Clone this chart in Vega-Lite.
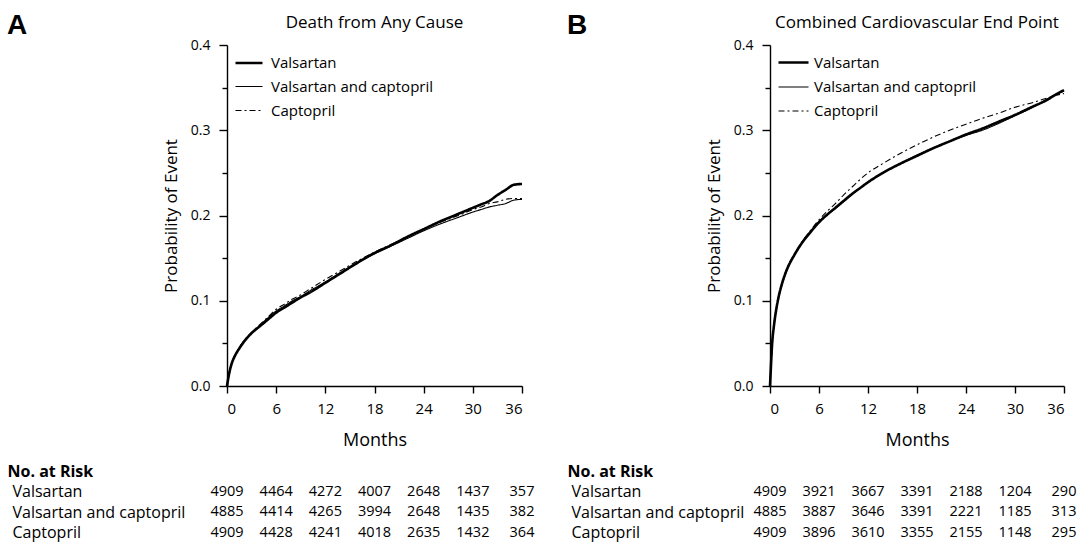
{
  "$schema": "https://vega.github.io/schema/vega-lite/v6.json",
  "padding": {"left": 7, "top": 12, "right": 0, "bottom": 0},
  "spacing": 32,
  "resolve": {"scale": {"strokeDash": "independent", "strokeWidth": "independent"}, "legend": {"strokeDash": "independent", "strokeWidth": "independent"}},
  "config": {
    "font": "Open Sans",
    "view": {"stroke": null},
    "axis": {"grid": false, "domainColor": "black", "tickColor": "black", "labelColor": "black", "titleColor": "black", "domainWidth": 1.4, "tickWidth": 1.4, "labelFontSize": 14, "titleFontSize": 17, "titleFontWeight": "normal"},
    "title": {"color": "black", "fontWeight": "normal"},
    "legend": {"labelColor": "black", "symbolStrokeColor": "black", "labelLimit": 400}
  },
  "datasets": {
    "curvesA": [
      {"series": "Valsartan", "month": 0, "p": 0},
      {"series": "Valsartan", "month": 0.25, "p": 0.014},
      {"series": "Valsartan", "month": 0.5, "p": 0.024},
      {"series": "Valsartan", "month": 1, "p": 0.036},
      {"series": "Valsartan", "month": 1.5, "p": 0.044},
      {"series": "Valsartan", "month": 2, "p": 0.051},
      {"series": "Valsartan", "month": 3, "p": 0.062},
      {"series": "Valsartan", "month": 4, "p": 0.07},
      {"series": "Valsartan", "month": 5, "p": 0.078},
      {"series": "Valsartan", "month": 6, "p": 0.086},
      {"series": "Valsartan", "month": 7, "p": 0.092},
      {"series": "Valsartan", "month": 8, "p": 0.098},
      {"series": "Valsartan", "month": 9, "p": 0.104},
      {"series": "Valsartan", "month": 10, "p": 0.109},
      {"series": "Valsartan", "month": 12, "p": 0.121},
      {"series": "Valsartan", "month": 14, "p": 0.133},
      {"series": "Valsartan", "month": 16, "p": 0.145},
      {"series": "Valsartan", "month": 18, "p": 0.156},
      {"series": "Valsartan", "month": 20, "p": 0.165},
      {"series": "Valsartan", "month": 22, "p": 0.175},
      {"series": "Valsartan", "month": 24, "p": 0.184},
      {"series": "Valsartan", "month": 26, "p": 0.193},
      {"series": "Valsartan", "month": 28, "p": 0.201},
      {"series": "Valsartan", "month": 30, "p": 0.209},
      {"series": "Valsartan", "month": 31, "p": 0.213},
      {"series": "Valsartan", "month": 32, "p": 0.217},
      {"series": "Valsartan", "month": 33, "p": 0.224},
      {"series": "Valsartan", "month": 34, "p": 0.23},
      {"series": "Valsartan", "month": 35, "p": 0.236},
      {"series": "Valsartan", "month": 36, "p": 0.237},
      {"series": "Valsartan and captopril", "month": 0, "p": 0},
      {"series": "Valsartan and captopril", "month": 0.25, "p": 0.014},
      {"series": "Valsartan and captopril", "month": 0.5, "p": 0.024},
      {"series": "Valsartan and captopril", "month": 1, "p": 0.036},
      {"series": "Valsartan and captopril", "month": 1.5, "p": 0.045},
      {"series": "Valsartan and captopril", "month": 2, "p": 0.052},
      {"series": "Valsartan and captopril", "month": 3, "p": 0.062},
      {"series": "Valsartan and captopril", "month": 4, "p": 0.071},
      {"series": "Valsartan and captopril", "month": 5, "p": 0.08},
      {"series": "Valsartan and captopril", "month": 6, "p": 0.088},
      {"series": "Valsartan and captopril", "month": 7, "p": 0.094},
      {"series": "Valsartan and captopril", "month": 8, "p": 0.1},
      {"series": "Valsartan and captopril", "month": 9, "p": 0.105},
      {"series": "Valsartan and captopril", "month": 10, "p": 0.111},
      {"series": "Valsartan and captopril", "month": 12, "p": 0.122},
      {"series": "Valsartan and captopril", "month": 14, "p": 0.134},
      {"series": "Valsartan and captopril", "month": 16, "p": 0.145},
      {"series": "Valsartan and captopril", "month": 18, "p": 0.155},
      {"series": "Valsartan and captopril", "month": 20, "p": 0.164},
      {"series": "Valsartan and captopril", "month": 22, "p": 0.173},
      {"series": "Valsartan and captopril", "month": 24, "p": 0.182},
      {"series": "Valsartan and captopril", "month": 26, "p": 0.19},
      {"series": "Valsartan and captopril", "month": 28, "p": 0.197},
      {"series": "Valsartan and captopril", "month": 30, "p": 0.204},
      {"series": "Valsartan and captopril", "month": 31, "p": 0.207},
      {"series": "Valsartan and captopril", "month": 32, "p": 0.21},
      {"series": "Valsartan and captopril", "month": 33, "p": 0.212},
      {"series": "Valsartan and captopril", "month": 34, "p": 0.214},
      {"series": "Valsartan and captopril", "month": 35, "p": 0.218},
      {"series": "Valsartan and captopril", "month": 36, "p": 0.219},
      {"series": "Captopril", "month": 0, "p": 0},
      {"series": "Captopril", "month": 0.25, "p": 0.015},
      {"series": "Captopril", "month": 0.5, "p": 0.025},
      {"series": "Captopril", "month": 1, "p": 0.037},
      {"series": "Captopril", "month": 1.5, "p": 0.045},
      {"series": "Captopril", "month": 2, "p": 0.052},
      {"series": "Captopril", "month": 3, "p": 0.063},
      {"series": "Captopril", "month": 4, "p": 0.072},
      {"series": "Captopril", "month": 5, "p": 0.081},
      {"series": "Captopril", "month": 6, "p": 0.09},
      {"series": "Captopril", "month": 7, "p": 0.096},
      {"series": "Captopril", "month": 8, "p": 0.102},
      {"series": "Captopril", "month": 9, "p": 0.107},
      {"series": "Captopril", "month": 10, "p": 0.113},
      {"series": "Captopril", "month": 12, "p": 0.125},
      {"series": "Captopril", "month": 14, "p": 0.136},
      {"series": "Captopril", "month": 16, "p": 0.147},
      {"series": "Captopril", "month": 18, "p": 0.157},
      {"series": "Captopril", "month": 20, "p": 0.166},
      {"series": "Captopril", "month": 22, "p": 0.175},
      {"series": "Captopril", "month": 24, "p": 0.184},
      {"series": "Captopril", "month": 26, "p": 0.192},
      {"series": "Captopril", "month": 28, "p": 0.199},
      {"series": "Captopril", "month": 30, "p": 0.207},
      {"series": "Captopril", "month": 31, "p": 0.21},
      {"series": "Captopril", "month": 32, "p": 0.214},
      {"series": "Captopril", "month": 33, "p": 0.216},
      {"series": "Captopril", "month": 34, "p": 0.219},
      {"series": "Captopril", "month": 35, "p": 0.22},
      {"series": "Captopril", "month": 36, "p": 0.22}
    ],
    "curvesB": [
      {"series": "Valsartan", "month": 0, "p": 0},
      {"series": "Valsartan", "month": 0.1, "p": 0.02},
      {"series": "Valsartan", "month": 0.25, "p": 0.048},
      {"series": "Valsartan", "month": 0.5, "p": 0.072},
      {"series": "Valsartan", "month": 0.75, "p": 0.089},
      {"series": "Valsartan", "month": 1, "p": 0.102},
      {"series": "Valsartan", "month": 1.5, "p": 0.121},
      {"series": "Valsartan", "month": 2, "p": 0.135},
      {"series": "Valsartan", "month": 3, "p": 0.154},
      {"series": "Valsartan", "month": 4, "p": 0.169},
      {"series": "Valsartan", "month": 5, "p": 0.181},
      {"series": "Valsartan", "month": 6, "p": 0.192},
      {"series": "Valsartan", "month": 7, "p": 0.201},
      {"series": "Valsartan", "month": 8, "p": 0.209},
      {"series": "Valsartan", "month": 9, "p": 0.217},
      {"series": "Valsartan", "month": 10, "p": 0.225},
      {"series": "Valsartan", "month": 11, "p": 0.232},
      {"series": "Valsartan", "month": 12, "p": 0.239},
      {"series": "Valsartan", "month": 14, "p": 0.251},
      {"series": "Valsartan", "month": 16, "p": 0.261},
      {"series": "Valsartan", "month": 18, "p": 0.27},
      {"series": "Valsartan", "month": 20, "p": 0.279},
      {"series": "Valsartan", "month": 22, "p": 0.287},
      {"series": "Valsartan", "month": 24, "p": 0.295},
      {"series": "Valsartan", "month": 26, "p": 0.302},
      {"series": "Valsartan", "month": 28, "p": 0.31},
      {"series": "Valsartan", "month": 30, "p": 0.318},
      {"series": "Valsartan", "month": 32, "p": 0.327},
      {"series": "Valsartan", "month": 34, "p": 0.336},
      {"series": "Valsartan", "month": 35, "p": 0.342},
      {"series": "Valsartan", "month": 36, "p": 0.347},
      {"series": "Valsartan and captopril", "month": 0, "p": 0},
      {"series": "Valsartan and captopril", "month": 0.1, "p": 0.02},
      {"series": "Valsartan and captopril", "month": 0.25, "p": 0.047},
      {"series": "Valsartan and captopril", "month": 0.5, "p": 0.071},
      {"series": "Valsartan and captopril", "month": 0.75, "p": 0.088},
      {"series": "Valsartan and captopril", "month": 1, "p": 0.101},
      {"series": "Valsartan and captopril", "month": 1.5, "p": 0.12},
      {"series": "Valsartan and captopril", "month": 2, "p": 0.134},
      {"series": "Valsartan and captopril", "month": 3, "p": 0.154},
      {"series": "Valsartan and captopril", "month": 4, "p": 0.17},
      {"series": "Valsartan and captopril", "month": 5, "p": 0.182},
      {"series": "Valsartan and captopril", "month": 6, "p": 0.193},
      {"series": "Valsartan and captopril", "month": 7, "p": 0.201},
      {"series": "Valsartan and captopril", "month": 8, "p": 0.208},
      {"series": "Valsartan and captopril", "month": 9, "p": 0.216},
      {"series": "Valsartan and captopril", "month": 10, "p": 0.224},
      {"series": "Valsartan and captopril", "month": 11, "p": 0.232},
      {"series": "Valsartan and captopril", "month": 12, "p": 0.239},
      {"series": "Valsartan and captopril", "month": 14, "p": 0.251},
      {"series": "Valsartan and captopril", "month": 16, "p": 0.261},
      {"series": "Valsartan and captopril", "month": 18, "p": 0.271},
      {"series": "Valsartan and captopril", "month": 20, "p": 0.279},
      {"series": "Valsartan and captopril", "month": 22, "p": 0.287},
      {"series": "Valsartan and captopril", "month": 24, "p": 0.294},
      {"series": "Valsartan and captopril", "month": 26, "p": 0.3},
      {"series": "Valsartan and captopril", "month": 28, "p": 0.308},
      {"series": "Valsartan and captopril", "month": 30, "p": 0.317},
      {"series": "Valsartan and captopril", "month": 32, "p": 0.326},
      {"series": "Valsartan and captopril", "month": 34, "p": 0.337},
      {"series": "Valsartan and captopril", "month": 35, "p": 0.342},
      {"series": "Valsartan and captopril", "month": 36, "p": 0.346},
      {"series": "Captopril", "month": 0, "p": 0},
      {"series": "Captopril", "month": 0.1, "p": 0.02},
      {"series": "Captopril", "month": 0.25, "p": 0.048},
      {"series": "Captopril", "month": 0.5, "p": 0.073},
      {"series": "Captopril", "month": 0.75, "p": 0.09},
      {"series": "Captopril", "month": 1, "p": 0.103},
      {"series": "Captopril", "month": 1.5, "p": 0.122},
      {"series": "Captopril", "month": 2, "p": 0.136},
      {"series": "Captopril", "month": 3, "p": 0.155},
      {"series": "Captopril", "month": 4, "p": 0.17},
      {"series": "Captopril", "month": 5, "p": 0.183},
      {"series": "Captopril", "month": 6, "p": 0.195},
      {"series": "Captopril", "month": 7, "p": 0.205},
      {"series": "Captopril", "month": 8, "p": 0.214},
      {"series": "Captopril", "month": 9, "p": 0.224},
      {"series": "Captopril", "month": 10, "p": 0.233},
      {"series": "Captopril", "month": 11, "p": 0.242},
      {"series": "Captopril", "month": 12, "p": 0.25},
      {"series": "Captopril", "month": 14, "p": 0.262},
      {"series": "Captopril", "month": 16, "p": 0.273},
      {"series": "Captopril", "month": 18, "p": 0.283},
      {"series": "Captopril", "month": 20, "p": 0.292},
      {"series": "Captopril", "month": 22, "p": 0.3},
      {"series": "Captopril", "month": 24, "p": 0.307},
      {"series": "Captopril", "month": 26, "p": 0.314},
      {"series": "Captopril", "month": 28, "p": 0.32},
      {"series": "Captopril", "month": 30, "p": 0.327},
      {"series": "Captopril", "month": 32, "p": 0.332},
      {"series": "Captopril", "month": 34, "p": 0.338},
      {"series": "Captopril", "month": 35, "p": 0.341},
      {"series": "Captopril", "month": 36, "p": 0.343}
    ],
    "riskA": [
      {"row": "Valsartan", "month": 0, "n": 4909}, {"row": "Valsartan", "month": 6, "n": 4464}, {"row": "Valsartan", "month": 12, "n": 4272}, {"row": "Valsartan", "month": 18, "n": 4007}, {"row": "Valsartan", "month": 24, "n": 2648}, {"row": "Valsartan", "month": 30, "n": 1437}, {"row": "Valsartan", "month": 36, "n": 357},
      {"row": "Valsartan and captopril", "month": 0, "n": 4885}, {"row": "Valsartan and captopril", "month": 6, "n": 4414}, {"row": "Valsartan and captopril", "month": 12, "n": 4265}, {"row": "Valsartan and captopril", "month": 18, "n": 3994}, {"row": "Valsartan and captopril", "month": 24, "n": 2648}, {"row": "Valsartan and captopril", "month": 30, "n": 1435}, {"row": "Valsartan and captopril", "month": 36, "n": 382},
      {"row": "Captopril", "month": 0, "n": 4909}, {"row": "Captopril", "month": 6, "n": 4428}, {"row": "Captopril", "month": 12, "n": 4241}, {"row": "Captopril", "month": 18, "n": 4018}, {"row": "Captopril", "month": 24, "n": 2635}, {"row": "Captopril", "month": 30, "n": 1432}, {"row": "Captopril", "month": 36, "n": 364}
    ],
    "riskB": [
      {"row": "Valsartan", "month": 0, "n": 4909}, {"row": "Valsartan", "month": 6, "n": 3921}, {"row": "Valsartan", "month": 12, "n": 3667}, {"row": "Valsartan", "month": 18, "n": 3391}, {"row": "Valsartan", "month": 24, "n": 2188}, {"row": "Valsartan", "month": 30, "n": 1204}, {"row": "Valsartan", "month": 36, "n": 290},
      {"row": "Valsartan and captopril", "month": 0, "n": 4885}, {"row": "Valsartan and captopril", "month": 6, "n": 3887}, {"row": "Valsartan and captopril", "month": 12, "n": 3646}, {"row": "Valsartan and captopril", "month": 18, "n": 3391}, {"row": "Valsartan and captopril", "month": 24, "n": 2221}, {"row": "Valsartan and captopril", "month": 30, "n": 1185}, {"row": "Valsartan and captopril", "month": 36, "n": 313},
      {"row": "Captopril", "month": 0, "n": 4909}, {"row": "Captopril", "month": 6, "n": 3896}, {"row": "Captopril", "month": 12, "n": 3610}, {"row": "Captopril", "month": 18, "n": 3355}, {"row": "Captopril", "month": 24, "n": 2155}, {"row": "Captopril", "month": 30, "n": 1148}, {"row": "Captopril", "month": 36, "n": 295}
    ]
  },
  "hconcat": [
    {
      "title": {"text": "A", "anchor": "start", "frame": "bounds", "fontSize": 28, "fontWeight": "bold", "font": "Liberation Sans", "offset": -26},
      "spacing": 12,
      "resolve": {"scale": {"strokeDash": "independent", "strokeWidth": "independent"}, "legend": {"strokeDash": "independent", "strokeWidth": "independent"}},
      "vconcat": [
        {
          "width": 295, "height": 341,
          "title": {"text": "Death from Any Cause", "fontSize": 17, "offset": 6},
          "data": {"name": "curvesA"},
          "mark": {"type": "line", "color": "black", "interpolate": "monotone"},
          "encoding": {
            "x": {"field": "month", "type": "quantitative", "scale": {"domain": [0, 36], "nice": false},
              "axis": {"values": [0, 6, 12, 18, 24, 30, 36], "title": "Months", "tickSize": 7, "labelPadding": 8, "labelFontSize": 15, "titleFontSize": 18, "titlePadding": 15}},
            "y": {"field": "p", "type": "quantitative", "scale": {"domain": [0, 0.4], "nice": false},
              "axis": {"values": [0, 0.05, 0.1, 0.15, 0.2, 0.25, 0.3, 0.35, 0.4], "title": "Probability of Event",
                "labelExpr": "round(datum.value*100) % 10 == 0 ? format(datum.value, '.1f') : ''",
                "tickSize": {"condition": {"test": "round(datum.value*100) % 10 == 0", "value": 8}, "value": 5},
                "labelPadding": 9, "titlePadding": 10}},
            "strokeDash": {"field": "series", "type": "nominal",
              "scale": {"domain": ["Valsartan", "Valsartan and captopril", "Captopril"], "range": [[1, 0], [1, 0], [6, 3, 2, 3]]},
              "legend": {"title": null, "orient": "none", "legendX": 7, "legendY": 3, "symbolType": "stroke", "symbolSize": 729, "symbolStrokeColor": "black", "labelFontSize": 15, "labelOffset": 7, "rowPadding": 1, "labelLimit": 400}},
            "strokeWidth": {"field": "series", "type": "nominal",
              "scale": {"type": "ordinal", "domain": ["Valsartan", "Valsartan and captopril", "Captopril"], "range": [2.6, 1.1, 1.1]},
              "legend": {"title": null, "orient": "none", "legendX": 7, "legendY": 3, "symbolType": "stroke", "symbolSize": 729, "symbolStrokeColor": "black", "labelFontSize": 15, "labelOffset": 7, "rowPadding": 1, "labelLimit": 400}}
          }
        },
        {
          "width": 295, "height": 82,
          "data": {"name": "riskA"},
          "mark": {"type": "text", "fontSize": 14.5, "color": "black"},
          "encoding": {
            "x": {"field": "month", "type": "quantitative", "scale": {"domain": [0, 36], "nice": false}, "axis": null},
            "y": {"field": "row", "type": "nominal",
              "scale": {"type": "point", "domain": ["No. at Risk", "Valsartan", "Valsartan and captopril", "Captopril"], "padding": 0.5},
              "axis": {"title": null, "domain": false, "ticks": false, "labelAlign": "left", "labelLimit": 400,
                "labelPadding": {"condition": {"test": "datum.value === 'No. at Risk'", "value": 220}, "value": 215},
                "labelFontSize": 16,
                "labelFontWeight": {"condition": {"test": "datum.value === 'No. at Risk'", "value": "bold"}, "value": "normal"}}},
            "text": {"field": "n", "type": "nominal"}
          }
        }
      ]
    },
    {
      "title": {"text": "B", "anchor": "start", "frame": "bounds", "fontSize": 28, "fontWeight": "bold", "font": "Liberation Sans", "offset": -26},
      "spacing": 12,
      "resolve": {"scale": {"strokeDash": "independent", "strokeWidth": "independent"}, "legend": {"strokeDash": "independent", "strokeWidth": "independent"}},
      "vconcat": [
        {
          "width": 294, "height": 341,
          "title": {"text": "Combined Cardiovascular End Point", "fontSize": 17, "offset": 6},
          "data": {"name": "curvesB"},
          "mark": {"type": "line", "color": "black", "interpolate": "monotone"},
          "encoding": {
            "x": {"field": "month", "type": "quantitative", "scale": {"domain": [0, 36], "nice": false},
              "axis": {"values": [0, 6, 12, 18, 24, 30, 36], "title": "Months", "tickSize": 7, "labelPadding": 8, "labelFontSize": 15, "titleFontSize": 18, "titlePadding": 15}},
            "y": {"field": "p", "type": "quantitative", "scale": {"domain": [0, 0.4], "nice": false},
              "axis": {"values": [0, 0.05, 0.1, 0.15, 0.2, 0.25, 0.3, 0.35, 0.4], "title": "Probability of Event",
                "labelExpr": "round(datum.value*100) % 10 == 0 ? format(datum.value, '.1f') : ''",
                "tickSize": {"condition": {"test": "round(datum.value*100) % 10 == 0", "value": 8}, "value": 5},
                "labelPadding": 9, "titlePadding": 10}},
            "strokeDash": {"field": "series", "type": "nominal",
              "scale": {"domain": ["Valsartan", "Valsartan and captopril", "Captopril"], "range": [[1, 0], [1, 0], [6, 3, 2, 3]]},
              "legend": {"title": null, "orient": "none", "legendX": 7, "legendY": 1, "symbolType": "stroke", "symbolSize": 900, "symbolStrokeColor": "black", "labelFontSize": 15, "labelOffset": 4, "rowPadding": 0, "labelLimit": 400}},
            "strokeWidth": {"field": "series", "type": "nominal",
              "scale": {"type": "ordinal", "domain": ["Valsartan", "Valsartan and captopril", "Captopril"], "range": [2.6, 1.1, 1.1]},
              "legend": {"title": null, "orient": "none", "legendX": 7, "legendY": 1, "symbolType": "stroke", "symbolSize": 900, "symbolStrokeColor": "black", "labelFontSize": 15, "labelOffset": 4, "rowPadding": 0, "labelLimit": 400}}
          }
        },
        {
          "width": 294, "height": 82,
          "data": {"name": "riskB"},
          "mark": {"type": "text", "fontSize": 14.5, "color": "black"},
          "encoding": {
            "x": {"field": "month", "type": "quantitative", "scale": {"domain": [0, 36], "nice": false}, "axis": null},
            "y": {"field": "row", "type": "nominal",
              "scale": {"type": "point", "domain": ["No. at Risk", "Valsartan", "Valsartan and captopril", "Captopril"], "padding": 0.5},
              "axis": {"title": null, "domain": false, "ticks": false, "labelAlign": "left", "labelLimit": 400,
                "labelPadding": {"condition": {"test": "datum.value === 'No. at Risk'", "value": 203}, "value": 199},
                "labelFontSize": 16,
                "labelFontWeight": {"condition": {"test": "datum.value === 'No. at Risk'", "value": "bold"}, "value": "normal"}}},
            "text": {"field": "n", "type": "nominal"}
          }
        }
      ]
    }
  ]
}
